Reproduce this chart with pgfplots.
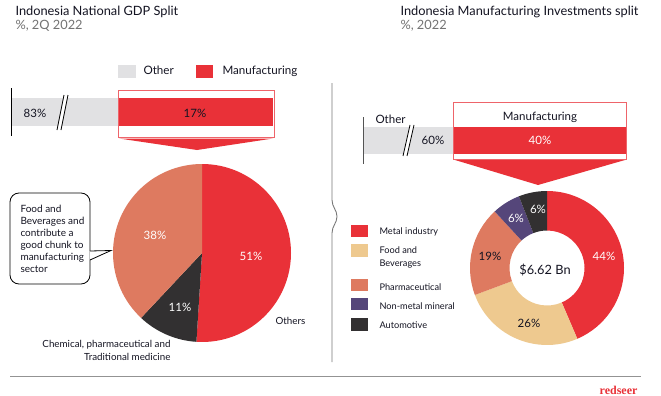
\documentclass[border=0pt]{standalone}
\usepackage{pgfplots}
\pgfplotsset{compat=1.18}
\usepackage{fontspec}
\setmainfont{Lato}
\newfontfamily\logofont{Liberation Serif}
\definecolor{cred}{RGB}{233,49,56}
\definecolor{csalmon}{RGB}{222,122,96}
\definecolor{cdark}{RGB}{50,48,49}
\definecolor{cbeige}{RGB}{238,201,143}
\definecolor{cpurple}{RGB}{85,70,122}
\definecolor{clgray}{RGB}{225,225,227}
\definecolor{ctext}{RGB}{20,20,34}
\definecolor{csub}{RGB}{115,115,115}
\definecolor{cline}{RGB}{120,120,120}
\newcommand\fs[1]{\fontsize{#1}{#1}\selectfont}
% pie slice: cx, cy, r, from, to, total, colour
\newcommand\pieslice[7]{%
  \pgfmathsetmacro\aA{90-(360/#6)*#4}%
  \pgfmathsetmacro\aB{90-(360/#6)*#5}%
  \edef\tmp{\noexpand\fill[#7] (axis cs:#1,#2) -- ++(\aA:#3pt) arc[start angle=\aA, end angle=\aB, radius=#3pt] -- cycle;}%
  \tmp}
% ring slice: cx, cy, rin, rout, from, to, total, colour
\newcommand\ringslice[8]{%
  \pgfmathsetmacro\aA{90-(360/#7)*#5}%
  \pgfmathsetmacro\aB{90-(360/#7)*#6}%
  \pgfmathsetmacro\aC{\aB+180}%
  \pgfmathsetmacro\dr{#4-#3}%
  \edef\tmp{\noexpand\fill[#8] (axis cs:#1,#2) ++(\aA:#4pt) arc[start angle=\aA, end angle=\aB, radius=#4pt] -- ++(\aC:\dr pt) arc[start angle=\aB, end angle=\aA, radius=#3pt] -- cycle;}%
  \tmp}
\begin{document}
\begin{tikzpicture}
\fill[white] (0,0) rectangle (661pt,396pt);
\path[use as bounding box] (0,0) rectangle (661pt,396pt);
\begin{axis}[x=1pt,y=1pt,xmin=0,xmax=661,ymin=0,ymax=396,y dir=reverse,
  hide axis,clip=false,scale only axis,anchor=south west,at={(0,0)}]
% ---------- titles
\node[anchor=base west,text=ctext,font=\fs{12.8}] at (12,16) {Indonesia National GDP Split};
\node[anchor=base west,text=csub,font=\fs{12.8}] at (12,29.5) {\%, 2Q 2022};
\node[anchor=base west,text=ctext,font=\fs{12.8}] at (397,16) {Indonesia Manufacturing Investments split};
\node[anchor=base west,text=csub,font=\fs{12.8}] at (397,29.5) {\%, 2022};
% ---------- left legend
\fill[clgray] (118,65) rectangle (136,78);
\node[anchor=base west,text=ctext,font=\fs{11.6}] at (140,74.5) {Other};
\fill[cred] (196,65) rectangle (213,78);
\node[anchor=base west,text=ctext,font=\fs{11.6}] at (219,74.5) {Manufacturing};
% ---------- left bar (Other 83, Manufacturing 17)
\addplot[fill=clgray,draw=none] coordinates {(11,98) (118,98) (118,126) (11,126)} -- cycle;
\addplot[fill=cred,draw=none] coordinates {(118,98) (273,98) (273,126) (118,126)} -- cycle;
\draw[cred!75,line width=0.9pt] (118,90) rectangle (274,137);
\draw[black,line width=1pt] (11,88) -- (11,136);
\fill[white] (57,130) -- (64,95) -- (68,95) -- (61,130) -- cycle;
\draw[black,line width=0.8pt] (57,130) -- (64,95) (61,130) -- (68,95);
\node[anchor=base,text=ctext,font=\fs{11.5}] at (35,117) {83\%};
\node[anchor=base,text=ctext,font=\fs{11.5}] at (195,117) {17\%};
\fill[cred] (119,138.5) -- (273,138.5) -- (197,150) -- cycle;
% ---------- left pie
\pieslice{202}{253}{89}{0}{51}{100}{cred}
\pieslice{202}{253}{89}{51}{62}{100}{cdark}
\pieslice{202}{253}{89}{62}{100}{100}{csalmon}
\node[anchor=base,text=white,font=\fs{11.5}] at (251,260) {51\%};
\node[anchor=base,text=white,font=\fs{11.5}] at (155,239) {38\%};
\node[anchor=base,text=white,font=\fs{11.5}] at (180,311) {11\%};
\node[anchor=base west,text=ctext,font=\fs{9.8}] at (272,324) {Others};
\node[anchor=base east,text=ctext,font=\fs{9.8}] at (174,347) {Chemical, pharmaceutical and};
\node[anchor=base east,text=ctext,font=\fs{9.8}] at (174,360) {Traditional medicine};
% callout
\draw[black,line width=0.8pt,fill=white,rounded corners=9pt] (10,193) rectangle (90,284);
\fill[white] (89.5,251) -- (111,250.5) -- (89.5,260) -- cycle;
\draw[black,line width=0.8pt] (90,251) -- (111,250.5) -- (90,260);
\node[anchor=base west,text=ctext,font=\fs{10}] at (17,212) {Food and};
\node[anchor=base west,text=ctext,font=\fs{10}] at (17,224) {Beverages and};
\node[anchor=base west,text=ctext,font=\fs{10}] at (17,236) {contribute a};
\node[anchor=base west,text=ctext,font=\fs{10}] at (17,248) {good chunk to};
\node[anchor=base west,text=ctext,font=\fs{10}] at (17,260) {manufacturing};
\node[anchor=base west,text=ctext,font=\fs{10}] at (17,272) {sector};
% ---------- divider
\draw[cline,line width=0.9pt] (332,83) -- (332,200) .. controls (332,207) and (337,210) .. (337,216.5) .. controls (337,223) and (332,226) .. (332,233) -- (332,362);
% ---------- right bar (Other 60, Manufacturing 40)
\addplot[fill=clgray,draw=none] coordinates {(363,127) (453,127) (453,154) (363,154)} -- cycle;
\addplot[fill=cred,draw=none] coordinates {(453,127) (626,127) (626,154) (453,154)} -- cycle;
\draw[cred!75,line width=0.9pt] (453,102) rectangle (626,159);
\draw[cline!70!black,line width=1pt] (363,117) -- (363,164);
\fill[white] (403,156) -- (410,125) -- (414,125) -- (407,156) -- cycle;
\draw[black,line width=0.8pt] (403,156) -- (410,125) (407,156) -- (414,125);
\node[anchor=base west,text=ctext,font=\fs{11.5}] at (372,123) {Other};
\node[anchor=base,text=ctext,font=\fs{11.5}] at (433,144) {60\%};
\node[anchor=base,text=ctext,font=\fs{11.5}] at (540,120.5) {Manufacturing};
\node[anchor=base,text=white,font=\fs{11.5}] at (540,144) {40\%};
\fill[cred] (455,160) -- (625,160) -- (538,185) -- cycle;
% ---------- donut (sums to 101)
\ringslice{547}{268}{37.5}{77}{0}{44}{101}{cred}
\ringslice{547}{268}{37.5}{77}{44}{70}{101}{cbeige}
\ringslice{547}{268}{37.5}{77}{70}{89}{101}{csalmon}
\ringslice{547}{268}{37.5}{77}{89}{95}{101}{cpurple}
\ringslice{547}{268}{37.5}{77}{95}{101}{101}{cdark}
\node[anchor=base,text=white,font=\fs{11.5}] at (604,260) {44\%};
\node[anchor=base,text=ctext,font=\fs{11.5}] at (529,327) {26\%};
\node[anchor=base,text=ctext,font=\fs{11.5}] at (490,260) {19\%};
\node[anchor=base,text=white,font=\fs{11.5}] at (516,222) {6\%};
\node[anchor=base,text=white,font=\fs{11.5}] at (538,213) {6\%};
\node[anchor=base,text=ctext,font=\fs{12.8}] at (545,274) {\$6.62 Bn};
% donut legend
\fill[cred] (351,225) rectangle (368,237);
\node[anchor=base west,text=ctext,font=\fs{9.2}] at (376,234) {Metal industry};
\fill[cbeige] (351,244) rectangle (368,257);
\node[anchor=base west,text=ctext,font=\fs{9.2}] at (376,253) {Food and};
\node[anchor=base west,text=ctext,font=\fs{9.2}] at (376,266) {Beverages};
\fill[csalmon] (351,279) rectangle (368,291);
\node[anchor=base west,text=ctext,font=\fs{9.2}] at (376,290) {Pharmaceutical};
\fill[cpurple] (351,298) rectangle (368,310);
\node[anchor=base west,text=ctext,font=\fs{9.2}] at (376,309) {Non-metal mineral};
\fill[cdark] (351,318) rectangle (368,331);
\node[anchor=base west,text=ctext,font=\fs{9.2}] at (376,328) {Automotive};
% ---------- footer
\draw[cline!80,line width=1pt] (10,376) -- (641,376);
\node[anchor=base east,text=cred,font=\logofont\bfseries\fs{12}] at (641,394) {redseer};
\end{axis}
\end{tikzpicture}
\end{document}
